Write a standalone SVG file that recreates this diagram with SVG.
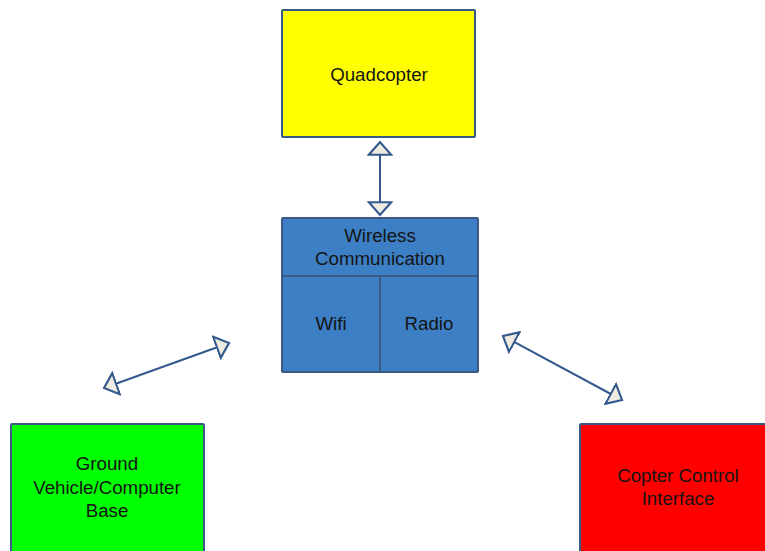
<svg xmlns="http://www.w3.org/2000/svg" width="765" height="551" viewBox="0 0 765 551">
  <style>
    .box { stroke: #3a5a86; stroke-width: 2; }
    .lbl { font-family: "Liberation Sans", Arial, sans-serif; font-size: 18.7px; fill: #141414; text-anchor: middle; }
    .link { stroke: #34598f; stroke-width: 2; fill: none; marker-start: url(#head); marker-end: url(#head); }
  </style>
  <defs>
    <marker id="head" markerUnits="userSpaceOnUse" markerWidth="16" markerHeight="26" viewBox="-1 -12 15 24" refX="12" refY="0" orient="auto-start-reverse">
      <path d="M0,-10.5 L12,0 L0,10.5 Z" fill="#eeece1" stroke="#34598f" stroke-width="2" stroke-linejoin="miter"/>
    </marker>
  </defs>

  <!-- connectors -->
  <g id="connectors">
    <line class="link" x1="380" y1="142" x2="380" y2="215"/>
    <line class="link" x1="104" y1="388" x2="229" y2="343"/>
    <line class="link" x1="503" y1="336" x2="622" y2="400"/>
  </g>

  <!-- Quadcopter -->
  <g id="quadcopter">
    <rect class="box" x="282" y="10" width="193" height="127" fill="#ffff00" rx="1"/>
    <text class="lbl" x="379" y="81">Quadcopter</text>
  </g>

  <!-- Wireless communication block -->
  <g id="wireless">
    <rect class="box" x="282" y="218" width="196" height="154" fill="#3d7fc4" rx="1"/>
    <line class="box" x1="282" y1="276" x2="478" y2="276"/>
    <line class="box" x1="380" y1="276" x2="380" y2="372"/>
    <text class="lbl" x="380" y="242">Wireless</text>
    <text class="lbl" x="380" y="265">Communication</text>
    <text class="lbl" x="331" y="330">Wifi</text>
    <text class="lbl" x="429" y="330">Radio</text>
  </g>

  <!-- Ground station -->
  <g id="ground">
    <rect class="box" x="11" y="424" width="193" height="140" fill="#00ff00" rx="1"/>
    <text class="lbl" x="107" y="470">Ground</text>
    <text class="lbl" x="107" y="494">Vehicle/Computer</text>
    <text class="lbl" x="107" y="517">Base</text>
  </g>

  <!-- Control interface -->
  <g id="control">
    <rect class="box" x="580" y="424" width="200" height="140" fill="#ff0000" rx="1"/>
    <text class="lbl" x="678" y="482">Copter Control</text>
    <text class="lbl" x="678" y="505">Interface</text>
  </g>
</svg>
